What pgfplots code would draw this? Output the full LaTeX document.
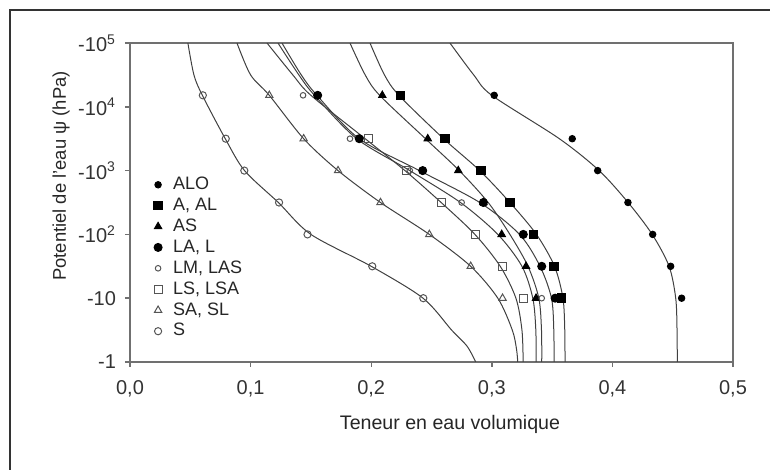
\documentclass[border=0pt]{standalone}
\usepackage{pgfplots}
\pgfplotsset{compat=1.18}
\usepackage{fontspec}
\setmainfont{Liberation Sans}
\definecolor{axgray}{HTML}{707070}
\definecolor{lngray}{HTML}{404040}
\definecolor{opgray}{HTML}{555555}
\begin{document}
\begin{tikzpicture}
\useasboundingbox (0,0) rectangle (385pt,235pt);
\draw[line width=1pt, black!80] (5pt,-5pt) -- (5pt,230pt) -- (395pt,230pt);
\begin{axis}[
  at={(65pt,54pt)}, anchor=south west, scale only axis,
  width=301.5pt, height=159.5pt,
  xmin=0, xmax=0.5, ymin=0, ymax=5,
  xtick={0,0.1,0.2,0.3,0.4,0.5},
  xticklabels={{0,0},{0,1},{0,2},{0,3},{0,4},{0,5}},
  ytick={0,1,2,3,4,5},
  yticklabels={-1,-10,-10\textsuperscript{2},-10\textsuperscript{3},-10\textsuperscript{4},-10\textsuperscript{5}},
  tick pos=left, tick align=outside, major tick length=2.5pt,
  axis line style={axgray, line width=0.9pt},
  tick style={axgray, line width=0.7pt},
  ticklabel style={font=\fontsize{10}{12}\selectfont, text=black!80},
  xticklabel style={yshift=-3pt},
  yticklabel style={xshift=-1pt},
  xlabel={Teneur en eau volumique},
  xlabel style={font=\fontsize{9.8}{12}\selectfont, text=black!85, at={(axis description cs:0.5307,0)}, anchor=center, yshift=-31pt},
  ylabel={Potentiel de l'eau ψ (hPa)},
  ylabel style={font=\fontsize{9.2}{11}\selectfont, text=black!85, at={(axis description cs:-0.1144,0.583)}, anchor=center},
  legend style={draw=none, fill=none, at={(axis description cs:0.029,0.605)}, anchor=north west,
     font=\fontsize{9}{11}\selectfont, text=black!85, row sep=-0.9pt,
     nodes={inner sep=1.8pt},
     /tikz/every odd column/.append style={column sep=3.6pt}},
  legend cell align=left,
  legend image code/.code={\draw[#1] plot coordinates {(0.12cm,0cm)};},
  every axis plot/.append style={line width=0.5pt},
]
% ---- fitted curves ----
\addplot[lngray, smooth, forget plot] coordinates {(0.048,5) (0.053,4.5) (0.060,4.18) (0.079,3.5) (0.095,3) (0.123,2.5) (0.150,2) (0.200,1.5) (0.243,1) (0.2667,0.5) (0.2794,0.25) (0.2867,0)};
\addplot[lngray, smooth, forget plot] coordinates {(0.0887,5) (0.100,4.5) (0.1155,4.18) (0.144,3.5) (0.1725,3) (0.2077,2.5) (0.2482,2) (0.2825,1.5) (0.305,1) (0.317,0.5) (0.3205,0.2) (0.3215,0)};
\addplot[lngray, smooth, forget plot] coordinates {(0.1136,5) (0.135,4.5) (0.150,4.18) (0.195,3.5) (0.228,3) (0.258,2.5) (0.286,2) (0.307,1.5) (0.320,1) (0.325,0.5) (0.326,0)};
\addplot[lngray, smooth, forget plot] coordinates {(0.1227,5) (0.140,4.5) (0.153,4.18) (0.188,3.5) (0.232,3) (0.274,2.5) (0.305,2) (0.325,1.5) (0.334,1) (0.3365,0.5) (0.3367,0)};
\addplot[lngray, smooth, forget plot] coordinates {(0.126,5) (0.142,4.5) (0.155,4.18) (0.190,3.5) (0.240,3) (0.290,2.5) (0.323,2) (0.340,1.5) (0.3495,1) (0.3514,0.5) (0.3516,0)};
\addplot[lngray, smooth, forget plot] coordinates {(0.1824,5) (0.195,4.5) (0.207,4.18) (0.245,3.5) (0.273,3) (0.297,2.5) (0.315,2) (0.330,1.5) (0.339,1) (0.3412,0.5) (0.3414,0)};
\addplot[lngray, smooth, forget plot] coordinates {(0.199,5) (0.211,4.5) (0.223,4.18) (0.260,3.5) (0.290,3) (0.315,2.5) (0.337,2) (0.352,1.5) (0.359,1) (0.3605,0.5) (0.3607,0)};
\addplot[lngray, smooth, forget plot] coordinates {(0.2653,5) (0.285,4.5) (0.300,4.18) (0.356,3.5) (0.389,3) (0.413,2.5) (0.433,2) (0.447,1.5) (0.4525,1) (0.4536,0.5) (0.4538,0)};
% ---- measured points ----
\addplot[only marks, mark=*, mark size=1.6pt, black] coordinates {(0.302,4.18) (0.3667,3.5) (0.3878,3) (0.4129,2.5) (0.4334,2) (0.4483,1.5) (0.4574,1)};
\addlegendentry{ALO}
\addplot[only marks, mark=square*, mark size=2.1pt, black] coordinates {(0.2245,4.18) (0.2612,3.5) (0.291,3) (0.3151,2.5) (0.3344,2) (0.3516,1.5) (0.358,1)};
\addlegendentry{A, AL}
\addplot[only marks, mark=triangle*, mark size=2.1pt, black] coordinates {(0.2092,4.18) (0.2469,3.5) (0.2722,3) (0.293,2.5) (0.3082,2) (0.3284,1.5) (0.3367,1)};
\addlegendentry{AS}
\addplot[only marks, mark=*, mark size=2pt, black] coordinates {(0.1556,4.18) (0.1901,3.5) (0.2427,3) (0.293,2.5) (0.3261,2) (0.3414,1.5) (0.3525,1)};
\addlegendentry{LA, L}
\addplot[only marks, mark=o, mark size=1.4pt, opgray, mark options={line width=0.5pt}] coordinates {(0.1435,4.18) (0.1824,3.5) (0.232,3) (0.275,2.5) (0.3414,1)};
\addlegendentry{LM, LAS}
\addplot[only marks, mark=square, mark size=2pt, opgray, mark options={line width=0.5pt}] coordinates {(0.1976,3.5) (0.2294,3) (0.2579,2.5) (0.2861,2) (0.309,1.5) (0.3261,1)};
\addlegendentry{LS, LSA}
\addplot[only marks, mark=triangle, mark size=2.1pt, opgray, mark options={line width=0.5pt}] coordinates {(0.1155,4.18) (0.144,3.5) (0.1725,3) (0.2077,2.5) (0.2482,2) (0.2825,1.5) (0.3089,1)};
\addlegendentry{SA, SL}
\addplot[only marks, mark=o, mark size=1.8pt, opgray, mark options={line width=0.5pt}] coordinates {(0.0604,4.18) (0.0794,3.5) (0.0948,3) (0.1236,2.5) (0.1472,2) (0.2009,1.5) (0.2432,1)};
\addlegendentry{S}
\end{axis}
\end{tikzpicture}
\end{document}
